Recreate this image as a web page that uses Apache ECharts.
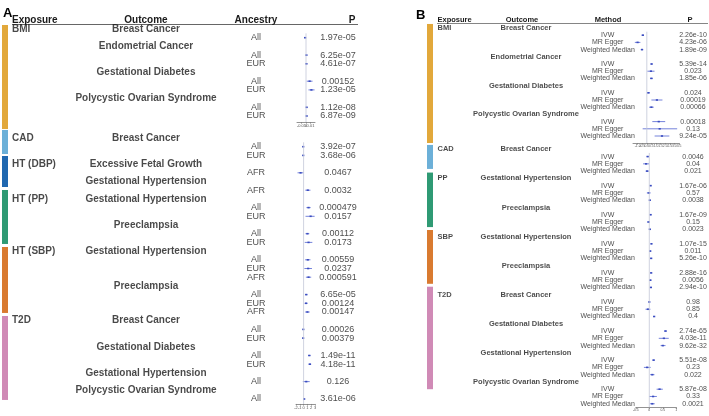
<!DOCTYPE html>
<html><head><meta charset="utf-8">
<script src="https://cdn.jsdelivr.net/npm/echarts/dist/echarts.min.js"></script>
<style>html,body{margin:0;padding:0;background:#fff}#c{width:709px;height:416px}</style>
</head><body><div id="c"></div>
<script>
// ---------------- DATA ----------------
// Panel A, BMI block
const a1Exposure = ['BMI','','','','','','','','','',''];
const a1Outcome  = ['Breast Cancer','','Endometrial Cancer','','','Gestational Diabetes','','','Polycystic Ovarian Syndrome','',''];
const a1Ancestry = ['','All','','All','EUR','','All','EUR','','All','EUR'];
const a1Est = [null,-0.002,null,0.001,0.001,null,0.008,0.012,null,0.0015,0.0015];
const a1Lo  = [null,-0.0028,null,0.0006,0.0006,null,0.0015,0.0055,null,0.0009,0.001];
const a1Hi  = [null,-0.0012,null,0.0014,0.0014,null,0.0145,0.019,null,0.0021,0.002];
const a1P   = ['','1.97e-05','','6.25e-07','4.61e-07','','0.00152','1.23e-05','','1.12e-08','6.87e-09'];
const a1Ticks = [-0.02,-0.01,0,0.01,0.02];

// Panel A, other exposures
const a2Exposure = ['CAD','','','HT (DBP)','','','','HT (PP)','','','','','','HT (SBP)','','','','','','','','T2D','','','','','','','','',''];
const a2Outcome  = ['Breast Cancer','','','Excessive Fetal Growth','','Gestational Hypertension','','Gestational Hypertension','','','Preeclampsia','','','Gestational Hypertension','','','','Preeclampsia','','','','Breast Cancer','','','Gestational Diabetes','','','Gestational Hypertension','','Polycystic Ovarian Syndrome',''];
const a2Ancestry = ['','All','EUR','','AFR','','AFR','','All','EUR','','All','EUR','','All','EUR','AFR','','All','EUR','AFR','','All','EUR','','All','EUR','','All','','All'];
const a2Est = [null,-0.1,-0.1,null,-0.8,null,1.1,null,1.3,1.85,null,1.0,1.3,null,1.1,1.2,1.3,null,0.7,0.65,1.0,null,-0.08,-0.12,null,1.5,1.65,null,0.7,null,0.15];
const a2Lo  = [null,-0.15,-0.16,null,-1.6,null,0.45,null,0.75,0.5,null,0.5,0.3,null,0.4,0.2,0.6,null,0.4,0.25,0.4,null,-0.12,-0.2,null,1.2,1.3,null,-0.2,null,0.09];
const a2Hi  = [null,-0.05,-0.04,null,-0.02,null,1.8,null,1.85,2.9,null,1.5,2.3,null,1.8,2.2,2.0,null,1.0,1.05,1.6,null,-0.04,-0.04,null,1.8,2.0,null,1.6,null,0.21];
const a2P   = ['','3.92e-07','3.68e-06','','0.0467','','0.0032','','0.000479','0.0157','','0.00112','0.0173','','0.00559','0.0237','0.000591','','6.65e-05','0.00124','0.00147','','0.00026','0.00379','','1.49e-11','4.18e-11','','0.126','','3.61e-06'];
const a2Ticks = [-2,-1,0,1,2,3];

// Panel B, BMI block
const b1Exposure = ['BMI','','','','','','','','','','','','','','',''];
const b1Outcome  = ['Breast Cancer','','','','Endometrial Cancer','','','','Gestational Diabetes','','','','Polycystic Ovarian Syndrome','','',''];
const b1Method   = ['','IVW','MR Egger','Weighted Median','','IVW','MR Egger','Weighted Median','','IVW','MR Egger','Weighted Median','','IVW','MR Egger','Weighted Median'];
const b1Est = [null,-0.43,-1.0,-0.52,null,0.52,0.45,0.5,null,0.17,1.1,0.5,null,1.3,1.4,1.65];
const b1Lo  = [null,-0.55,-1.3,-0.65,null,0.42,0.06,0.35,null,0.02,0.5,0.25,null,0.6,-0.45,0.85];
const b1Hi  = [null,-0.31,-0.7,-0.4,null,0.62,0.84,0.65,null,0.35,1.7,0.75,null,2.0,3.3,2.45];
const b1P   = ['','2.26e-10','4.23e-06','1.89e-09','','5.39e-14','0.023','1.85e-06','','0.024','0.00019','0.00066','','0.00018','0.13','9.24e-05'];
const b1Ticks = [-1.5,-1,-0.5,0,0.5,1,1.5,2,2.5,3,3.5];

// Panel B, other exposures
const b2Exposure = ['CAD','','','','PP','','','','','','','','SBP','','','','','','','','T2D','','','','','','','','','','','','','','',''];
const b2Outcome  = ['Breast Cancer','','','','Gestational Hypertension','','','','Preeclampsia','','','','Gestational Hypertension','','','','Preeclampsia','','','','Breast Cancer','','','','Gestational Diabetes','','','','Gestational Hypertension','','','','Polycystic Ovarian Syndrome','','',''];
const b2Method   = ['','IVW','MR Egger','Weighted Median','','IVW','MR Egger','Weighted Median','','IVW','MR Egger','Weighted Median','','IVW','MR Egger','Weighted Median','','IVW','MR Egger','Weighted Median','','IVW','MR Egger','Weighted Median','','IVW','MR Egger','Weighted Median','','IVW','MR Egger','Weighted Median','','IVW','MR Egger','Weighted Median'];
const b2Est = [null,-0.06,-0.12,-0.08,null,0.05,-0.02,0.02,null,0.05,-0.03,0.02,null,0.08,0.035,0.07,null,0.07,0.04,0.06,null,0.0,-0.05,0.18,null,0.6,0.54,0.5,null,0.16,-0.08,0.11,null,0.38,0.14,0.11];
const b2Lo  = [null,-0.1,-0.23,-0.14,null,0.03,-0.09,0.007,null,0.035,-0.07,0.007,null,0.06,0.008,0.05,null,0.055,0.012,0.04,null,-0.02,-0.14,0.15,null,0.55,0.35,0.42,null,0.12,-0.2,0.03,null,0.27,0.0,0.02];
const b2Hi  = [null,-0.02,-0.01,-0.02,null,0.07,0.05,0.035,null,0.065,0.01,0.033,null,0.1,0.062,0.09,null,0.085,0.068,0.08,null,0.02,0.04,0.21,null,0.65,0.72,0.6,null,0.2,0.05,0.19,null,0.5,0.28,0.2];
const b2P   = ['','0.0046','0.04','0.021','','1.67e-06','0.57','0.0038','','1.67e-09','0.15','0.0023','','1.07e-15','0.011','5.26e-10','','2.88e-16','0.0056','2.94e-10','','0.98','0.85','0.4','','2.74e-65','4.03e-11','9.62e-32','','5.51e-08','0.23','0.022','','5.87e-08','0.33','0.0021'];
const b2Ticks = [-0.5,0,0.5,1];

// exposure group colours
const groupColors = {BMI:'#E2A83B', CAD:'#6CB0D8', 'HT (DBP)':'#2068B0', 'HT (PP)':'#2F9A74', PP:'#2F9A74', 'HT (SBP)':'#D97A30', SBP:'#D97A30', T2D:'#D08AB6'};

// ---------------- LAYOUT ----------------
const W = 709;
const FONT = '"Liberation Sans", Arial, Helvetica, sans-serif';
const PT = '#3a4cc0', CI = '#6474d6', REF = '#C3C7D8', AX = '#777';
const sections = [
  {ex:a1Exposure, out:a1Outcome, grp:a1Ancestry, est:a1Est, lo:a1Lo, hi:a1Hi, p:a1P, ticks:a1Ticks,
   r0:29, pitch:8.7, tMin:-1.6, tMax:11.8, fMin:0.5, fMax:10.69, fLeft:297, fWidth:18, fs:4, dec:null,
   cols:{ex:12, out:146, grp:256, p:338}, big:10, small:9, barX:2, barW:6,
   bars:[['BMI',-0.46,11.5]]},
  {ex:a2Exposure, out:a2Outcome, grp:a2Ancestry, est:a2Est, lo:a2Lo, hi:a2Hi, p:a2P, ticks:a2Ticks,
   r0:138, pitch:8.7, tMin:-1.2, tMax:31, fMin:0.5, fMax:30.57, fLeft:296, fWidth:19, fs:4, dec:null,
   cols:{ex:12, out:146, grp:256, p:338}, big:10, small:9, barX:2, barW:6,
   bars:[['CAD',-0.92,1.84],['HT (DBP)',2.07,5.63],['HT (PP)',5.98,12.18],['HT (SBP)',12.53,20.11],['T2D',20.46,30.11]]},
  {ex:b1Exposure, out:b1Outcome, grp:b1Method, est:b1Est, lo:b1Lo, hi:b1Hi, p:b1P, ticks:b1Ticks,
   r0:28, pitch:7.2, tMin:-1.6, tMax:16.5, fMin:0.5, fMax:15.97, fLeft:633, fWidth:46, fs:3.4, dec:1,
   cols:{ex:437.5, out:526, grp:607.7, p:693}, big:7.5, small:7, barX:427, barW:6,
   bars:[['BMI',-0.56,15.97]]},
  {ex:b2Exposure, out:b2Outcome, grp:b2Method, est:b2Est, lo:b2Lo, hi:b2Hi, p:b2P, ticks:b2Ticks,
   r0:149.3, pitch:7.27, tMin:-0.8, tMax:36, fMin:0.5, fMax:35.5, fLeft:635.8, fWidth:40.5, fs:3.4, dec:null,
   cols:{ex:437.5, out:526, grp:607.7, p:693}, big:7.5, small:7, barX:427, barW:6,
   bars:[['CAD',-0.6,2.7],['PP',3.2,10.7],['SBP',11.1,18.5],['T2D',18.9,33.0]]}
];

const grid = [], xAxis = [], yAxis = [], series = [];
function textSeries(gi, x, texts, size, bold, align){
  const data = [];
  texts.forEach((t,i)=>{ if(t) data.push([x,i,t]); });
  return {type:'scatter', xAxisIndex:gi, yAxisIndex:gi, symbolSize:1, silent:true,
    itemStyle:{color:'rgba(0,0,0,0)'}, data,
    label:{show:true, position:'inside', formatter:p=>p.data[2], color:'#1a1a1a',
      fontFamily:FONT, fontSize:size, fontWeight:bold?'bold':'normal', align, verticalAlign:'middle'}};
}
sections.forEach((s, k)=>{
  const tg = grid.length;
  grid.push({left:0, width:W, top:s.r0 + s.tMin*s.pitch, height:(s.tMax-s.tMin)*s.pitch});
  xAxis.push({type:'value', gridIndex:tg, min:0, max:W, show:false});
  yAxis.push({type:'value', gridIndex:tg, min:s.tMin, max:s.tMax, inverse:true, show:false});
  series.push(textSeries(tg, s.cols.ex, s.ex, s.big, true, 'left'));
  series.push(textSeries(tg, s.cols.out, s.out, s.big, true, 'center'));
  series.push(textSeries(tg, s.cols.grp, s.grp, s.small, false, 'center'));
  series.push(textSeries(tg, s.cols.p, s.p, s.small, false, 'center'));
  // exposure colour bars
  series.push({type:'custom', xAxisIndex:tg, yAxisIndex:tg, silent:true,
    data:s.bars.map(b=>[s.barX, b[1], s.barX+s.barW, b[2]]),
    renderItem:(params, api)=>{
      const a = api.coord([api.value(0), api.value(1)]);
      const b = api.coord([api.value(2), api.value(3)]);
      const name = s.bars[params.dataIndex][0];
      return {type:'rect', shape:{x:a[0], y:a[1], width:b[0]-a[0], height:b[1]-a[1]}, style:{fill:groupColors[name]}};
    }});
  // forest grid
  const fg = grid.length;
  const t = s.ticks;
  grid.push({left:s.fLeft, width:s.fWidth, top:s.r0 + s.fMin*s.pitch, height:(s.fMax-s.fMin)*s.pitch});
  xAxis.push({type:'value', gridIndex:fg, min:t[0], max:t[t.length-1], interval:t[1]-t[0],
    axisLine:{show:true, lineStyle:{color:AX, width:0.8}}, axisTick:{show:true, length:1.8, lineStyle:{color:AX, width:0.6}},
    splitLine:{show:false},
    axisLabel:{show:true, fontSize:s.fs, margin:1.5, color:'#555', fontFamily:FONT,
      formatter:v=> s.dec!=null ? v.toFixed(s.dec) : String(+v.toFixed(4))}});
  yAxis.push({type:'value', gridIndex:fg, min:s.fMin, max:s.fMax, inverse:true, show:false});
  series.push({type:'line', xAxisIndex:fg, yAxisIndex:fg, silent:true, showSymbol:false,
    data:[[0,s.fMin],[0,s.fMax]], lineStyle:{color:REF, width:0.8}});
  const fd = [];
  s.est.forEach((e,i)=>{ if(e!==null) fd.push([e,i,s.lo[i],s.hi[i]]); });
  series.push({type:'custom', xAxisIndex:fg, yAxisIndex:fg, silent:true, data:fd,
    encode:{x:[0,2,3], y:1},
    renderItem:(params, api)=>{
      const r = api.value(1);
      const e = api.coord([api.value(0), r]);
      const l = api.coord([api.value(2), r]);
      const h = api.coord([api.value(3), r]);
      return {type:'group', children:[
        {type:'line', shape:{x1:l[0], y1:e[1], x2:h[0], y2:e[1]}, style:{stroke:CI, lineWidth:0.9}},
        {type:'rect', shape:{x:e[0]-1.1, y:e[1]-0.8, width:2.2, height:1.6}, style:{fill:PT}}
      ]};
    }});
});

// headers (static decorations)
const headA = [['Exposure',12,'left'],['Outcome',146,'center'],['Ancestry',256,'center'],['P',352,'center']];
const headB = [['Exposure',437.5,'left'],['Outcome',522,'center'],['Method',608,'center'],['P',690,'center']];
const graphic = [
  {type:'text', style:{text:'A', x:3, y:13.5, font:'bold 13px '+FONT, fill:'#000', textAlign:'left', textVerticalAlign:'middle', align:'left', verticalAlign:'middle'}},
  {type:'text', style:{text:'B', x:416, y:15, font:'bold 13px '+FONT, fill:'#000', textAlign:'left', textVerticalAlign:'middle', align:'left', verticalAlign:'middle'}},
  {type:'line', shape:{x1:12, y1:24.5, x2:358, y2:24.5}, style:{stroke:'#666', lineWidth:1}},
  {type:'line', shape:{x1:437, y1:23.5, x2:708, y2:23.5}, style:{stroke:'#666', lineWidth:0.8}}
];
headA.forEach(h=>graphic.push({type:'text', style:{text:h[0], x:h[1], y:20, font:'bold 10px '+FONT, fill:'#1a1a1a', textAlign:h[2], align:h[2], textVerticalAlign:'middle', verticalAlign:'middle'}}));
headB.forEach(h=>graphic.push({type:'text', style:{text:h[0], x:h[1], y:20, font:'bold 7.5px '+FONT, fill:'#1a1a1a', textAlign:h[2], align:h[2], textVerticalAlign:'middle', verticalAlign:'middle'}}));

const chart = echarts.init(document.getElementById('c'), null, {renderer:'canvas'});
chart.setOption({animation:false, backgroundColor:'#fff', grid, xAxis, yAxis, series, graphic});
</script></body></html>
